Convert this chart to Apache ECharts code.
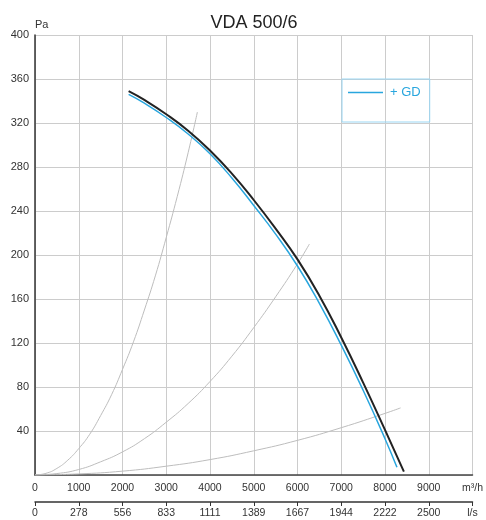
<!DOCTYPE html>
<html>
<head>
<meta charset="utf-8">
<script src="https://cdn.jsdelivr.net/npm/echarts@6/dist/echarts.min.js"></script>
<style>
html,body{margin:0;padding:0;background:#fff;}
#chart{width:486px;height:520px;}
</style>
</head>
<body>
<div id="chart"></div>
<script>
// Fan curve (black)
const fanFlow = [2140, 2500, 3000, 3500, 4000, 4500, 5000, 5500, 6000, 6500, 7000, 7500, 8000, 8432];
const fanPressure = [349, 341, 328, 313, 295, 274, 250, 224, 196, 163, 125, 84, 41, 3];
// Fan curve with + GD (blue)
const gdFlow = [2140, 2500, 3000, 3500, 4000, 4500, 5000, 5500, 6000, 6500, 7000, 7500, 8000, 8273];
const gdPressure = [346, 338, 325, 310, 292, 270, 245, 219, 190, 156, 118, 77, 33, 7];
// System curves (grey)
const sys1Flow = [0, 250, 500, 750, 1000, 1250, 1500, 1750, 2000, 2250, 2500, 2750, 3000, 3250, 3500, 3712];
const sys1Pressure = [0, 1.5, 6, 13.5, 24, 37, 54, 73, 96, 121, 150, 181, 216, 253, 293, 330];
const sys2Flow = [0, 500, 1000, 1500, 2000, 2500, 3000, 3500, 4000, 4500, 5000, 5500, 6000, 6273];
const sys2Pressure = [0, 1.3, 5, 12, 21, 33, 48, 65, 85, 108, 134, 162, 192, 210];
const sys3Flow = [0, 1000, 2000, 3000, 4000, 5000, 6000, 7000, 8000, 8356];
const sys3Pressure = [0, 1, 3.5, 8, 14, 22, 31.5, 43, 56, 61];
// Tick labels
const m3hLabels = ['0', '1000', '2000', '3000', '4000', '5000', '6000', '7000', '8000', '9000', 'm³/h'];
const lsLabels = ['0', '278', '556', '833', '1111', '1389', '1667', '1944', '2222', '2500', 'l/s'];
const titleText = 'VDA 500/6';
const legendName = '+ GD';

const pairs = (xs, ys) => xs.map((x, i) => [x, ys[i]]);
const FONT = '"Liberation Sans", Arial, sans-serif';

const chart = echarts.init(document.getElementById('chart'), null, {renderer: 'canvas'});
chart.setOption({
  animation: false,
  backgroundColor: '#fff',
  textStyle: {fontFamily: FONT},
  title: {
    text: titleText, left: 254, top: 14, textAlign: 'center', padding: 0,
    textStyle: {fontSize: 18, fontWeight: 'normal', color: '#222', fontFamily: FONT}
  },
  legend: {
    data: [legendName], left: 342, top: 79,
    padding: [7, 9, 23, 6],
    borderColor: '#9ad6f3', borderWidth: 1,
    icon: 'rect', itemWidth: 35, itemHeight: 1.5,
    textStyle: {color: '#29a6de', fontSize: 13, fontFamily: FONT, padding: [0, 0, 0, 2]}
  },
  grid: {left: 35, right: 12, top: 35, bottom: 45, containLabel: false},
  xAxis: [{
    type: 'value', min: 0, max: 10000, interval: 1000,
    axisLine: {show: true, onZero: false, lineStyle: {color: '#444', width: 1.5}},
    axisTick: {show: false},
    splitLine: {show: true, lineStyle: {color: '#cccccc', width: 1}},
    axisLabel: {
      margin: 8, fontSize: 10.5, color: '#333', fontFamily: FONT,
      formatter: (v) => m3hLabels[Math.round(v / 1000)]
    }
  }, {
    type: 'value', min: 0, max: 10000, interval: 1000, position: 'bottom', offset: 27,
    axisLine: {show: true, onZero: false, lineStyle: {color: '#333', width: 1.5}},
    axisTick: {show: true, length: 4, lineStyle: {color: '#333'}},
    splitLine: {show: false},
    axisLabel: {
      margin: 6, fontSize: 10.5, color: '#333', fontFamily: FONT,
      formatter: (v) => lsLabels[Math.round(v / 1000)]
    }
  }],
  yAxis: {
    type: 'value', min: 0, max: 400, interval: 40,
    name: 'Pa', nameLocation: 'end', nameGap: 5,
    nameTextStyle: {align: 'left', fontSize: 11, color: '#333', fontFamily: FONT},
    axisLine: {show: true, lineStyle: {color: '#333', width: 1.5}},
    axisTick: {show: false},
    splitLine: {show: true, lineStyle: {color: '#cccccc', width: 1}},
    axisLabel: {showMinLabel: false, margin: 6, fontSize: 11, color: '#333', fontFamily: FONT}
  },
  series: [
    {type: 'line', name: 'sys1', data: pairs(sys1Flow, sys1Pressure), smooth: 0.5, symbol: 'none',
     lineStyle: {color: '#bdbdbd', width: 1}, silent: true, z: 1},
    {type: 'line', name: 'sys2', data: pairs(sys2Flow, sys2Pressure), smooth: 0.5, symbol: 'none',
     lineStyle: {color: '#bdbdbd', width: 1}, silent: true, z: 1},
    {type: 'line', name: 'sys3', data: pairs(sys3Flow, sys3Pressure), smooth: 0.5, symbol: 'none',
     lineStyle: {color: '#bdbdbd', width: 1}, silent: true, z: 1},
    {type: 'line', name: legendName, data: pairs(gdFlow, gdPressure), smooth: 0.5, symbol: 'none',
     color: '#29a6de', lineStyle: {color: '#29a6de', width: 1.5}, z: 3},
    {type: 'line', name: titleText, data: pairs(fanFlow, fanPressure), smooth: 0.5, symbol: 'none',
     lineStyle: {color: '#222', width: 2}, z: 4}
  ]
});
</script>
</body>
</html>
